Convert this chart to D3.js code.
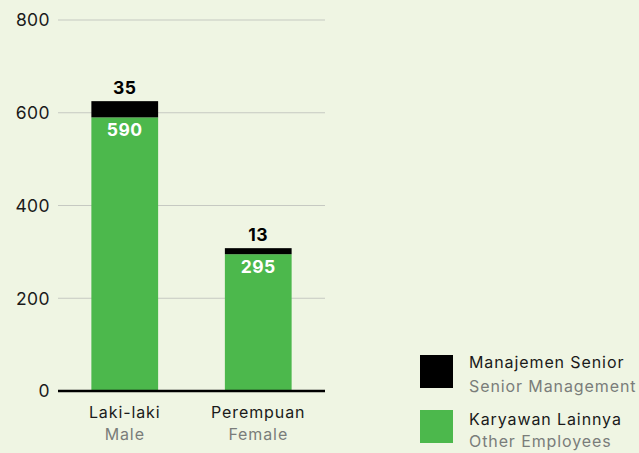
<!DOCTYPE html>
<html><head><meta charset="utf-8">
<script src="https://cdn.jsdelivr.net/npm/d3@7"></script>
<style>
html,body{margin:0;padding:0;background:#eff5e3;}
svg{display:block;font-family:Inter,"Noto Sans",sans-serif;}
</style></head><body>
<svg id="c" width="639" height="453"></svg>
<script>
const categories = ["Laki-laki","Perempuan"];
const categoriesEn = ["Male","Female"];
const otherEmployees = [590,295];
const seniorMgmt = [35,13];
const yTicks = [0,200,400,600,800];
const seriesNames = ["Manajemen Senior","Karyawan Lainnya"];
const seriesNamesEn = ["Senior Management","Other Employees"];
const colors = {senior:"#000000", other:"#4cb84c"};

const svg = d3.select("#c");
const x = d3.scaleBand().domain(categories).range([58,325]).paddingInner(0.5).paddingOuter(0.25);
const y = d3.scaleLinear().domain([0,800]).range([391,20]);

// grid
svg.append("g").selectAll("line").data(yTicks.filter(d=>d>0)).join("line")
  .attr("x1",58).attr("x2",325).attr("y1",d=>y(d)).attr("y2",d=>y(d))
  .attr("stroke","#c6c9c2").attr("stroke-width",1.2);
// y labels
svg.append("g").selectAll("text").data(yTicks).join("text")
  .attr("x",50).attr("y",d=>y(d)).attr("dy","0.36em").attr("text-anchor","end")
  .attr("font-size",17.5).attr("letter-spacing",0.4).attr("fill","#1a1a1a").text(d=>d);

const data = categories.map((c,i)=>({c, en:categoriesEn[i], o:otherEmployees[i], s:seniorMgmt[i]}));
const g = svg.append("g");
g.selectAll("rect.o").data(data).join("rect").attr("class","o")
  .attr("x",d=>x(d.c)).attr("width",x.bandwidth())
  .attr("y",d=>y(d.o)).attr("height",d=>y(0)-y(d.o)).attr("fill",colors.other);
g.selectAll("rect.s").data(data).join("rect").attr("class","s")
  .attr("x",d=>x(d.c)).attr("width",x.bandwidth())
  .attr("y",d=>y(d.o+d.s)).attr("height",d=>y(d.o)-y(d.o+d.s)).attr("fill",colors.senior);
g.selectAll("text.s").data(data).join("text").attr("class","s")
  .attr("x",d=>x(d.c)+x.bandwidth()/2).attr("y",d=>y(d.o+d.s)-7)
  .attr("text-anchor","middle").attr("font-size",17.5).attr("letter-spacing",0.5).attr("font-weight",700).attr("fill","#000").text(d=>d.s);
g.selectAll("text.o").data(data).join("text").attr("class","o")
  .attr("x",d=>x(d.c)+x.bandwidth()/2).attr("y",d=>y(d.o)+19)
  .attr("text-anchor","middle").attr("font-size",17.5).attr("letter-spacing",0.5).attr("font-weight",700).attr("fill","#fff").text(d=>d.o);

// baseline
svg.append("line").attr("x1",58).attr("x2",325).attr("y1",y(0)).attr("y2",y(0))
  .attr("stroke","#000").attr("stroke-width",2.6);

// x labels
const xl = svg.append("g").selectAll("g").data(data).join("g");
xl.append("text").attr("x",d=>x(d.c)+x.bandwidth()/2).attr("y",418).attr("text-anchor","middle")
  .attr("font-size",16).attr("letter-spacing",0.9).attr("fill","#1a1a1a").text(d=>d.c);
xl.append("text").attr("x",d=>x(d.c)+x.bandwidth()/2).attr("y",440).attr("text-anchor","middle")
  .attr("font-size",16).attr("letter-spacing",0.9).attr("fill","#7a7d7a").text(d=>d.en);

// legend
const leg = [{n:seriesNames[0],e:seriesNamesEn[0],c:colors.senior},{n:seriesNames[1],e:seriesNamesEn[1],c:colors.other}];
const lg = svg.append("g").selectAll("g").data(leg).join("g").attr("transform",(d,i)=>`translate(420,${355+i*55})`);
lg.append("rect").attr("width",33).attr("height",33).attr("fill",d=>d.c);
lg.append("text").attr("x",49).attr("y",(d,i)=>13+i*2).attr("font-size",16).attr("letter-spacing",0.9).attr("fill","#1a1a1a").text(d=>d.n);
lg.append("text").attr("x",49).attr("y",37).attr("font-size",16).attr("letter-spacing",0.9).attr("fill","#7a7d7a").text(d=>d.e);
</script>
</body></html>
